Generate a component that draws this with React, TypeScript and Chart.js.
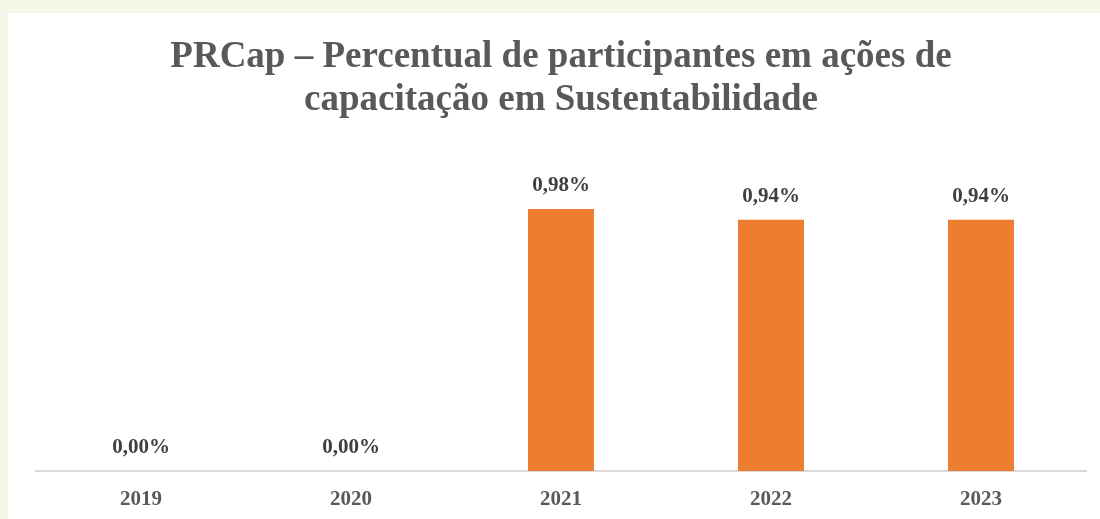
import React, { useEffect, useRef } from "react";
import { Chart, registerables } from "chart.js";

Chart.register(...registerables);

const categories = ["2019", "2020", "2021", "2022", "2023"];
const values = [0, 0, 0.98, 0.94, 0.94];
const valueLabels = ["0,00%", "0,00%", "0,98%", "0,94%", "0,94%"];
const titleLines = [
  "PRCap – Percentual de participantes em ações de",
  "capacitação em Sustentabilidade",
];

const FONT = "'Liberation Serif', 'DejaVu Serif', serif";

const labelPlugin = {
  id: "valueLabels",
  afterDatasetsDraw(chart: any) {
    const ctx = chart.ctx;
    const meta = chart.getDatasetMeta(0);
    ctx.save();
    ctx.font = `bold 21px ${FONT}`;
    ctx.fillStyle = "#404040";
    ctx.textAlign = "center";
    ctx.textBaseline = "middle";
    meta.data.forEach((el: any, i: number) => {
      ctx.fillText(valueLabels[i], el.x, el.y - 23);
    });
    ctx.restore();
  },
};

export default function App() {
  const ref = useRef<HTMLCanvasElement>(null);
  useEffect(() => {
    if (!ref.current) return;
    const chart = new Chart(ref.current, {
      type: "bar",
      data: {
        labels: categories,
        datasets: [
          {
            data: values,
            backgroundColor: "#ED7D31",
            barPercentage: 0.314,
            categoryPercentage: 1,
          },
        ],
      },
      options: {
        responsive: false,
        animation: false,
        layout: { padding: { left: 36, right: 14, top: 36, bottom: 0 } },
        plugins: {
          legend: { display: false },
          tooltip: { enabled: false },
          title: {
            display: true,
            text: titleLines,
            color: "#595959",
            font: { family: FONT, size: 37, weight: "bold", lineHeight: 1.165 },
            padding: { top: 0, bottom: 28 },
          },
        },
        scales: {
          x: {
            grid: { display: false, drawTicks: false },
            border: { display: true, color: "#d9d9d9", width: 2 },
            ticks: {
              color: "#595959",
              padding: 16,
              font: { family: FONT, size: 21, weight: "bold", lineHeight: 1.2 },
            },
            afterFit: (scale: any) => {
              scale.height = 48;
            },
          },
          y: {
            display: false,
            min: 0,
            max: 1.2,
          },
        },
      },
      plugins: [labelPlugin],
    });
    return () => chart.destroy();
  }, []);
  return (
    <div
      style={{
        position: "fixed",
        left: 0,
        top: 0,
        width: 1100,
        height: 519,
        background: "#f4f7e6",
        overflow: "hidden",
      }}
    >
      <div
        style={{
          position: "absolute",
          left: 8,
          top: 13,
          width: 1092,
          height: 506,
          background: "#ffffff",
        }}
      />
      <canvas
        ref={ref}
        width={1100}
        height={519}
        style={{ position: "absolute", left: 0, top: 0 }}
      />
    </div>
  );
}
